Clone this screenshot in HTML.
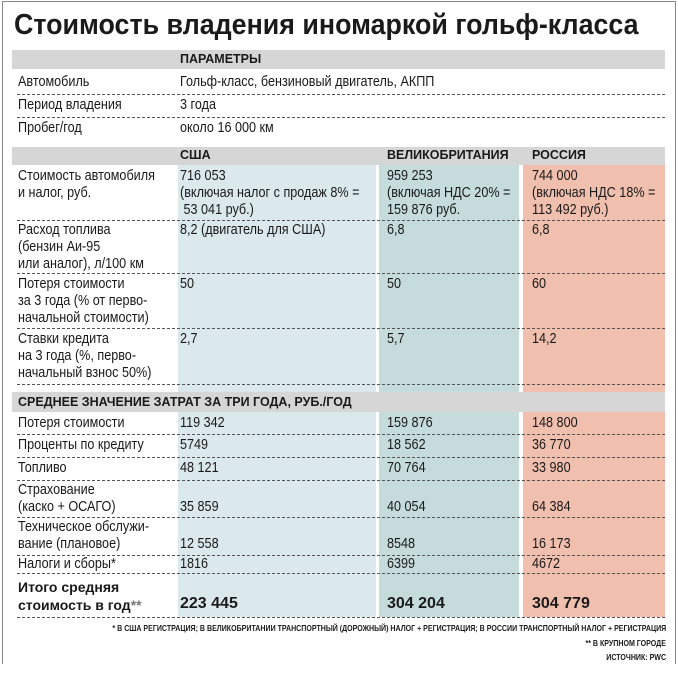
<!DOCTYPE html>
<html><head><meta charset="utf-8">
<style>
body{margin:0;background:#fff;}
#root{position:relative;width:678px;height:674px;overflow:hidden;background:#fff;font-family:"Liberation Sans Narrow","Liberation Sans",sans-serif;color:#1a1a1a;}
.abs{position:absolute;}
.t{position:absolute;font-size:14.5px;line-height:17px;white-space:nowrap;transform:scaleX(.87);transform-origin:0 0;}
.t.b{transform:none;}
.b{font-family:"Liberation Sans","DejaVu Sans",sans-serif;font-weight:bold;}
.hdr{position:absolute;left:12px;width:653px;background:#d6d6d6;}
.hl{position:absolute;font-family:"Liberation Sans","DejaVu Sans",sans-serif;font-weight:bold;font-size:12.5px;line-height:19px;white-space:nowrap;}
.dash{position:absolute;left:17px;width:648px;height:0;border-top:1px dashed #555;}
.fn{position:absolute;right:12px;font-family:"Liberation Sans","DejaVu Sans",sans-serif;font-weight:bold;font-size:8.5px;line-height:10px;white-space:nowrap;transform:scaleX(.83);transform-origin:100% 0;}
</style></head><body>
<div id="root">
<div class="abs" style="left:2px;top:1px;width:672px;height:662px;border:1px solid #888;border-bottom:none;"></div>
<div class="abs b" style="left:14px;top:9px;font-size:29px;line-height:32px;font-weight:900;white-space:nowrap;transform:scaleX(.925);transform-origin:0 0;">Стоимость владения иномаркой гольф-класса</div>

<div class="abs" style="left:178px;top:165px;width:198px;height:452px;background:#dce9ec;"></div>
<div class="abs" style="left:379px;top:165px;width:140px;height:452px;background:#c6dcdc;"></div>
<div class="abs" style="left:523px;top:165px;width:142px;height:452px;background:#f0bfae;"></div>

<div class="hdr" style="top:50px;height:19px;"></div>
<div class="hl" style="left:180px;top:50px;">ПАРАМЕТРЫ</div>
<div class="hdr" style="top:147px;height:18px;"></div>
<div class="hl" style="left:180px;top:146px;">США</div>
<div class="hl" style="left:387px;top:146px;">ВЕЛИКОБРИТАНИЯ</div>
<div class="hl" style="left:532px;top:146px;">РОССИЯ</div>
<div class="hdr" style="top:392px;height:20px;"></div>
<div class="hl" style="left:18px;top:393px;">СРЕДНЕЕ ЗНАЧЕНИЕ ЗАТРАТ ЗА ТРИ ГОДА, РУБ./ГОД</div>

<div class="t" style="left:18px;top:74px;">Автомобиль</div>
<div class="t" style="left:180px;top:74px;">Гольф-класс, бензиновый двигатель, АКПП</div>
<div class="dash" style="top:94px;"></div>
<div class="t" style="left:18px;top:97px;">Период владения</div>
<div class="t" style="left:180px;top:97px;">3 года</div>
<div class="dash" style="top:117px;"></div>
<div class="t" style="left:18px;top:120px;">Пробег/год</div>
<div class="t" style="left:180px;top:120px;">около 16 000 км</div>

<div class="t" style="left:18px;top:168px;">Стоимость автомобиля<br>и налог, руб.</div>
<div class="t" style="left:180px;top:168px;">716 053<br>(включая налог с продаж 8% =<br>&nbsp;53 041 руб.)</div>
<div class="t" style="left:387px;top:168px;">959 253<br>(включая НДС 20% =<br>159 876 руб.</div>
<div class="t" style="left:532px;top:168px;">744 000<br>(включая НДС 18% =<br>113 492 руб.)</div>
<div class="dash" style="top:220px;"></div>
<div class="t" style="left:18px;top:222px;">Расход топлива<br>(бензин Аи-95<br>или аналог), л/100 км</div>
<div class="t" style="left:180px;top:222px;">8,2 (двигатель для США)</div>
<div class="t" style="left:387px;top:222px;">6,8</div>
<div class="t" style="left:532px;top:222px;">6,8</div>
<div class="dash" style="top:273px;"></div>
<div class="t" style="left:18px;top:276px;">Потеря стоимости<br>за 3 года (% от перво-<br>начальной стоимости)</div>
<div class="t" style="left:180px;top:276px;">50</div>
<div class="t" style="left:387px;top:276px;">50</div>
<div class="t" style="left:532px;top:276px;">60</div>
<div class="dash" style="top:328px;"></div>
<div class="t" style="left:18px;top:331px;">Ставки кредита<br>на 3 года (%, перво-<br>начальный взнос 50%)</div>
<div class="t" style="left:180px;top:331px;">2,7</div>
<div class="t" style="left:387px;top:331px;">5,7</div>
<div class="t" style="left:532px;top:331px;">14,2</div>
<div class="dash" style="top:384px;"></div>

<div class="t" style="left:18px;top:415px;">Потеря стоимости</div>
<div class="t" style="left:180px;top:415px;">119 342</div>
<div class="t" style="left:387px;top:415px;">159 876</div>
<div class="t" style="left:532px;top:415px;">148 800</div>
<div class="dash" style="top:434px;"></div>
<div class="t" style="left:18px;top:437px;">Проценты по кредиту</div>
<div class="t" style="left:180px;top:437px;">5749</div>
<div class="t" style="left:387px;top:437px;">18 562</div>
<div class="t" style="left:532px;top:437px;">36 770</div>
<div class="dash" style="top:457px;"></div>
<div class="t" style="left:18px;top:460px;">Топливо</div>
<div class="t" style="left:180px;top:460px;">48 121</div>
<div class="t" style="left:387px;top:460px;">70 764</div>
<div class="t" style="left:532px;top:460px;">33 980</div>
<div class="dash" style="top:480px;"></div>
<div class="t" style="left:18px;top:482px;">Страхование<br>(каско + ОСАГО)</div>
<div class="t" style="left:180px;top:499px;">35 859</div>
<div class="t" style="left:387px;top:499px;">40 054</div>
<div class="t" style="left:532px;top:499px;">64 384</div>
<div class="dash" style="top:517px;"></div>
<div class="t" style="left:18px;top:519px;">Техническое обслужи-<br>вание (плановое)</div>
<div class="t" style="left:180px;top:536px;">12 558</div>
<div class="t" style="left:387px;top:536px;">8548</div>
<div class="t" style="left:532px;top:536px;">16 173</div>
<div class="dash" style="top:555px;"></div>
<div class="t" style="left:18px;top:556px;">Налоги и сборы*</div>
<div class="t" style="left:180px;top:556px;">1816</div>
<div class="t" style="left:387px;top:556px;">6399</div>
<div class="t" style="left:532px;top:556px;">4672</div>
<div class="dash" style="top:573px;"></div>
<div class="t b" style="left:18px;top:578px;font-size:14px;line-height:18px;">Итого средняя<br>стоимость в год<span style="color:#777">**</span></div>
<div class="t b" style="left:180px;top:594px;font-size:16px;line-height:20px;">223 445</div>
<div class="t b" style="left:387px;top:594px;font-size:16px;line-height:20px;">304 204</div>
<div class="t b" style="left:532px;top:594px;font-size:16px;line-height:20px;">304 779</div>
<div class="dash" style="top:617px;"></div>

<div class="fn" style="top:623px;">* В США РЕГИСТРАЦИЯ; В ВЕЛИКОБРИТАНИИ ТРАНСПОРТНЫЙ (ДОРОЖНЫЙ) НАЛОГ + РЕГИСТРАЦИЯ; В РОССИИ ТРАНСПОРТНЫЙ НАЛОГ + РЕГИСТРАЦИЯ</div>
<div class="fn" style="top:638px;">** В КРУПНОМ ГОРОДЕ</div>
<div class="fn" style="top:652px;">ИСТОЧНИК: PWC</div>
</div>
</body></html>
